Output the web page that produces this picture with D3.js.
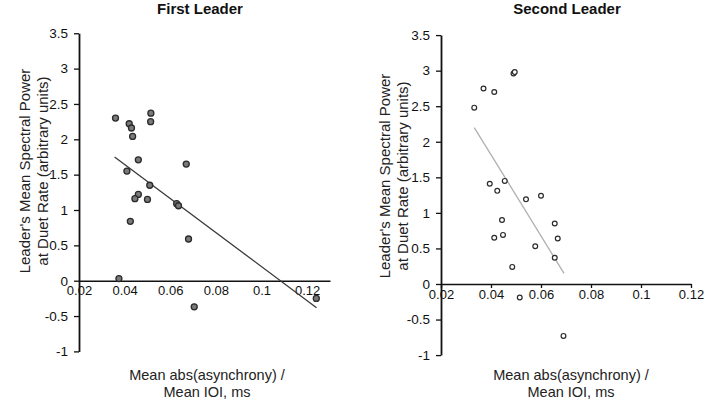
<!DOCTYPE html>
<html><head><meta charset="utf-8">
<script src="https://cdn.jsdelivr.net/npm/d3@7"></script>
<style>body{margin:0;background:#fff}svg{display:block}text{font-family:"Liberation Sans",Arial,sans-serif}</style>
</head><body><svg id="c" width="708" height="400"></svg>
<script>
// First Leader data
const firstX = [0.036,0.0515,0.0514,0.042,0.043,0.0435,0.046,0.067,0.041,0.051,0.046,0.0445,0.050,0.0628,0.0636,0.0425,0.068,0.0375,0.0705,0.124];
const firstY = [2.30,2.37,2.25,2.22,2.16,2.04,1.71,1.65,1.55,1.35,1.22,1.16,1.15,1.09,1.06,0.84,0.59,0.03,-0.37,-0.25];
const firstTrendX = [0.0356,0.1241];
const firstTrendY = [1.75,-0.382];
// Second Leader data
const secondX = [0.0333,0.037,0.0413,0.049,0.0495,0.0395,0.0455,0.0425,0.054,0.060,0.0444,0.0655,0.0413,0.0448,0.0667,0.0577,0.0655,0.0485,0.0515,0.069];
const secondY = [2.48,2.75,2.70,2.96,2.98,1.41,1.45,1.31,1.19,1.24,0.90,0.85,0.65,0.69,0.64,0.53,0.37,0.24,-0.19,-0.73];
const secondTrendX = [0.0333,0.0692];
const secondTrendY = [2.20,0.15];
// Axes
const xTicks = [0.02,0.04,0.06,0.08,0.1,0.12];
const yTicks = [3.5,3,2.5,2,1.5,1,0.5,0,-0.5,-1];
const titles = ["First Leader","Second Leader"];
const yLabel = ["Leader's Mean Spectral Power","at Duet Rate (arbitrary units)"];
const xLabel = ["Mean abs(asynchrony) /","Mean IOI, ms"];

const svg = d3.select("#c");
const fmt = d => String(d);

const panels = [
  {title:titles[0], xs:firstX, ys:firstY, tx:firstTrendX, ty:firstTrendY,
   xDom:[0.02,0.13], xR:[79,330], yR:[351.4,33.25], cx:200, ylx:30, yly:171, xtx:207,
   xTickSize:0, xPad:5, filled:true, trend:"#3a3a3a"},
  {title:titles[1], xs:secondX, ys:secondY, tx:secondTrendX, ty:secondTrendY,
   xDom:[0.02,0.12], xR:[441,691], yR:[355.1,35.1], cx:567, ylx:390, yly:176, xtx:571,
   xTickSize:4, xPad:1.5, filled:false, trend:"#b0b0b0"}
];

panels.forEach(p => {
  const x = d3.scaleLinear().domain(p.xDom).range(p.xR);
  const y = d3.scaleLinear().domain([-1,3.5]).range(p.yR);
  const g = svg.append("g");

  // title
  g.append("text").attr("x",p.cx).attr("y",14).attr("text-anchor","middle")
    .attr("font-size",15).attr("font-weight","bold").attr("fill","#111").text(p.title);

  // y axis
  const ya = g.append("g").attr("transform",`translate(${p.xR[0]},0)`)
    .call(d3.axisLeft(y).tickValues(yTicks).tickFormat(fmt).tickSize(5).tickSizeOuter(0).tickPadding(6));
  ya.select(".domain").attr("stroke","#111").attr("stroke-width",1.8);
  ya.selectAll(".tick line").attr("stroke","#111").attr("stroke-width",1.3);
  ya.selectAll("text").attr("font-size",13.5).attr("fill","#111");

  // x axis at y=0
  const xa = g.append("g").attr("transform",`translate(0,${y(0)})`)
    .call(d3.axisBottom(x).tickValues(xTicks).tickFormat(fmt).tickSize(p.xTickSize).tickSizeOuter(0).tickPadding(p.xPad));
  xa.select(".domain").attr("stroke","#111").attr("stroke-width",1.5);
  xa.selectAll(".tick line").attr("stroke","#111").attr("stroke-width",1.3);
  xa.selectAll("text").attr("font-size",13).attr("fill","#111");

  // y label
  const yl = g.append("text").attr("transform",`translate(${p.ylx},${p.yly}) rotate(-90)`)
    .attr("text-anchor","middle").attr("font-size",15).attr("fill","#222");
  yl.append("tspan").attr("x",0).attr("y",0).text(yLabel[0]);
  yl.append("tspan").attr("x",0).attr("y",17.5).text(yLabel[1]);

  // x label
  const xl = g.append("text").attr("text-anchor","middle").attr("font-size",14.5).attr("fill","#222");
  xl.append("tspan").attr("x",p.xtx).attr("y",380).text(xLabel[0]);
  xl.append("tspan").attr("x",p.xtx).attr("y",397).text(xLabel[1]);

  // trend line
  const td = p.tx.map((v,i)=>[v,p.ty[i]]);
  g.append("path").datum(td).attr("fill","none").attr("stroke",p.trend).attr("stroke-width",1.3)
    .attr("d",d3.line().x(d=>x(d[0])).y(d=>y(d[1])));

  // points
  const pts = p.xs.map((v,i)=>[v,p.ys[i]]);
  g.selectAll("circle.pt").data(pts).join("circle").attr("class","pt")
    .attr("cx",d=>x(d[0])).attr("cy",d=>y(d[1]))
    .attr("r",p.filled?3:2.4)
    .attr("fill",p.filled?"#7a7a7a":"#fff")
    .attr("stroke","#2a2a2a").attr("stroke-width",p.filled?1.3:1.2);
});
</script></body></html>
